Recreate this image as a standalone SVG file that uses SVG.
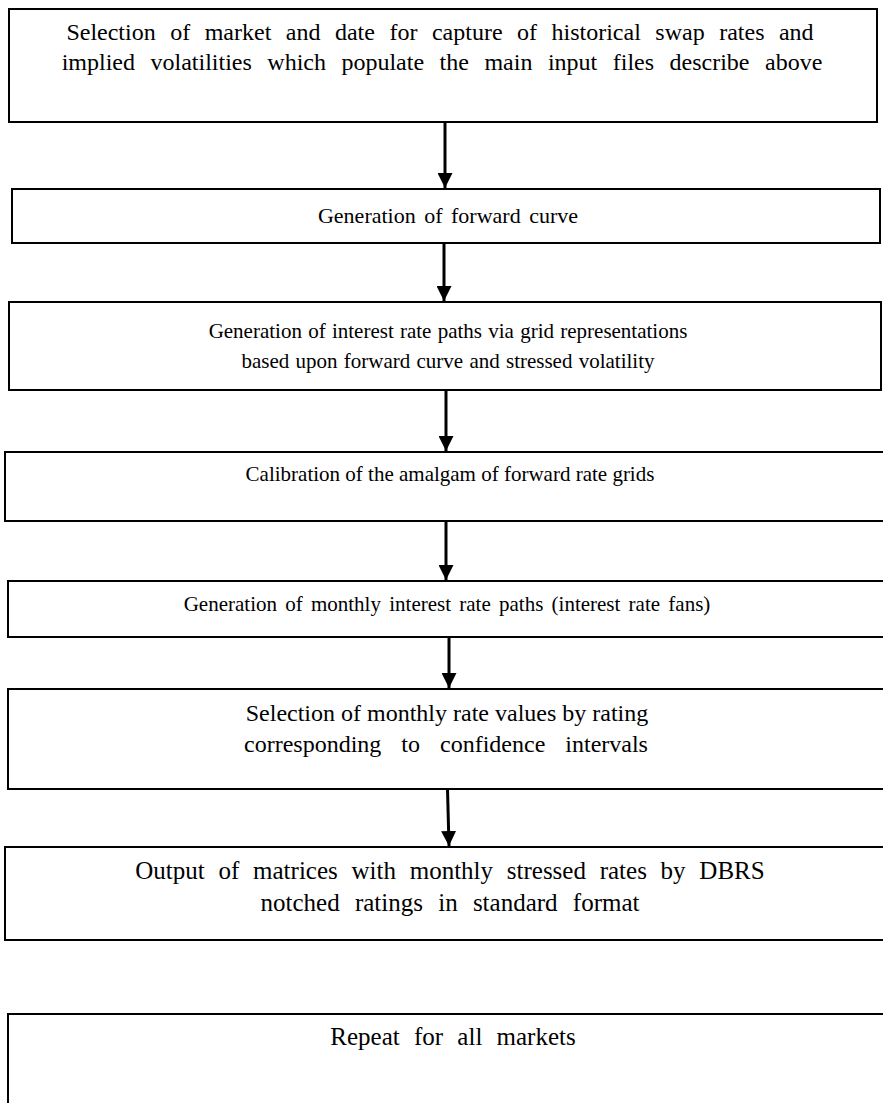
<svg xmlns="http://www.w3.org/2000/svg" width="883" height="1103" viewBox="0 0 883 1103">
<defs>
<style>
.box{fill:#fff;stroke:#000;stroke-width:2}
.t{font-family:"Liberation Serif","Times New Roman",serif;font-size:22px;fill:#000;text-anchor:middle}
.c{stroke:#000;stroke-width:3;fill:none}
</style>
<marker id="ah" viewBox="0 0 10 10" refX="10" refY="5" markerWidth="5" markerHeight="5" orient="auto" markerUnits="strokeWidth">
<path d="M0,0 L10,5 L0,10 z" fill="#000"/>
</marker>
</defs>
<rect width="883" height="1103" fill="#fff"/>
<g id="n1"><rect class="box" x="9" y="9" width="868" height="113"/>
<text class="t" x="440" y="40" style="font-size:24px;word-spacing:8.5px">Selection of market and date for capture of historical swap rates and</text>
<text class="t" x="442" y="70" style="font-size:24px;word-spacing:9.5px">implied volatilities which populate the main input files describe above</text></g>
<g id="n2"><rect class="box" x="12" y="189" width="868" height="54"/>
<text class="t" x="448" y="223" style="word-spacing:3px">Generation of forward curve</text></g>
<g id="n3"><rect class="box" x="9" y="302" width="872" height="88"/>
<text class="t" x="448" y="338" style="font-size:21px;word-spacing:1px">Generation of interest rate paths via grid representations</text>
<text class="t" x="448" y="368" style="font-size:21px;word-spacing:1px">based upon forward curve and stressed volatility</text></g>
<g id="n4"><rect class="box" x="5" y="452" width="900" height="69"/>
<text class="t" x="450" y="481" style="font-size:21px">Calibration of the amalgam of forward rate grids</text></g>
<g id="n5"><rect class="box" x="8" y="581" width="900" height="56"/>
<text class="t" x="447" y="611" style="font-size:21px;word-spacing:3px">Generation of monthly interest rate paths (interest rate fans)</text></g>
<g id="n6"><rect class="box" x="8" y="689" width="900" height="100"/>
<text class="t" x="447" y="721" style="font-size:24px">Selection of monthly rate values by rating</text>
<text class="t" x="446" y="752" style="font-size:24px;word-spacing:14px">corresponding to confidence intervals</text></g>
<g id="n7"><rect class="box" x="5" y="847" width="900" height="93"/>
<text class="t" x="450" y="879" style="font-size:25px;word-spacing:7.5px">Output of matrices with monthly stressed rates by DBRS</text>
<text class="t" x="450" y="911" style="font-size:25px;word-spacing:9px">notched ratings in standard format</text></g>
<g id="n8"><rect class="box" x="8" y="1014" width="900" height="100"/>
<text class="t" x="453" y="1045" style="font-size:25px;word-spacing:8px">Repeat for all markets</text></g>
<g id="connectors">
<line class="c" x1="445" y1="122" x2="445" y2="188" marker-end="url(#ah)"/>
<line class="c" x1="444" y1="243" x2="444" y2="301" marker-end="url(#ah)"/>
<line class="c" x1="446" y1="390" x2="446" y2="451" marker-end="url(#ah)"/>
<line class="c" x1="446" y1="521" x2="446" y2="580" marker-end="url(#ah)"/>
<line class="c" x1="449" y1="637" x2="449" y2="688" marker-end="url(#ah)"/>
<line class="c" x1="447.5" y1="789" x2="449" y2="846" marker-end="url(#ah)"/>
</g>
</svg>
